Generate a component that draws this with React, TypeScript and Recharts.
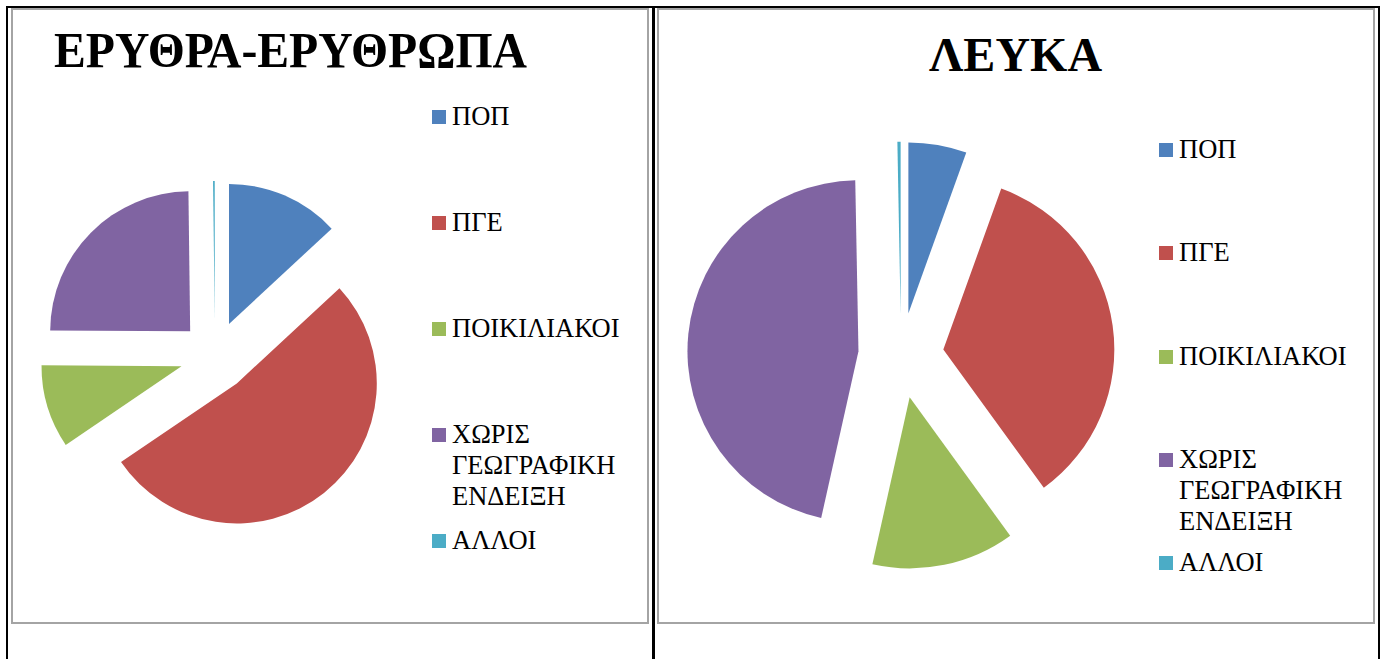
import { Cell, Legend, Pie, PieChart } from "recharts";

const categories = ["ΠΟΠ", "ΠΓΕ", "ΠΟΙΚΙΛΙΑΚΟΙ", "ΧΩΡΙΣ ΓΕΩΓΡΑΦΙΚΗ ΕΝΔΕΙΞΗ", "ΑΛΛΟΙ"];
const colors = ["#4F81BD", "#C0504D", "#9BBB59", "#8064A2", "#4BACC6"];

// percent shares
const redValues = [13.1, 52.4, 9.6, 24.7, 0.2];
const whiteValues = [5.5, 34.5, 13.5, 46.2, 0.3];

const SERIF = '"Liberation Serif", "Times New Roman", serif';

function explodedCenters(values: number[], cx: number, cy: number, dist: number) {
  const total = values.reduce((a, b) => a + b, 0);
  let acc = 0;
  return values.map((v) => {
    const mid = ((acc + v / 2) / total) * Math.PI * 2;
    acc += v;
    return { x: cx + dist * Math.sin(mid), y: cy - dist * Math.cos(mid) };
  });
}

function SideLegend({ pitch }: { pitch: number }) {
  return (
    <div style={{ position: "relative", fontFamily: SERIF, fontSize: 26.5, lineHeight: "31px", color: "#000" }}>
      {categories.map((name, i) => (
        <div key={name} style={{ position: "absolute", left: 0, top: i * pitch, display: "flex", alignItems: "flex-start" }}>
          <span style={{ width: 14, height: 14, marginTop: 9, marginRight: 6, background: colors[i], flex: "none" }} />
          <span style={{ width: 178, fontFamily: SERIF }}>{name}</span>
        </div>
      ))}
    </div>
  );
}

type PanelProps = {
  title: string;
  values: number[];
  left: number;
  width: number;
  cx: number;
  cy: number;
  radius: number;
  titleX: number;
  titleY: number;
  titleSize: number;
  titleAnchor: "start" | "middle";
  titleLength?: number;
  legendLeft: number;
  legendTop: number;
  legendPitch: number;
};

function PiePanel(p: PanelProps) {
  const data = categories.map((name, i) => ({ name, value: p.values[i] }));
  // each slice pulled out by 25% of the radius, like the original
  const centers = explodedCenters(p.values, p.cx, p.cy, p.radius * 0.25);
  const height = 616;
  return (
    <div style={{ position: "absolute", left: p.left, top: 8, width: p.width, height }}>
      <PieChart width={p.width} height={height} margin={{ top: 0, right: 0, bottom: 0, left: 0 }}>
        {centers.map((c, i) => (
          <Pie
            key={i}
            data={data}
            dataKey="value"
            nameKey="name"
            cx={c.x}
            cy={c.y}
            outerRadius={p.radius}
            startAngle={90}
            endAngle={-270}
            stroke="none"
            isAnimationActive={false}
          >
            {data.map((d, j) => (
              <Cell key={d.name} fill={j === i ? colors[j] : "transparent"} stroke="none" />
            ))}
          </Pie>
        ))}
        <Legend
          layout="vertical"
          align="right"
          verticalAlign="top"
          wrapperStyle={{ left: p.legendLeft, top: p.legendTop, right: "auto", width: 200 }}
          content={() => <SideLegend pitch={p.legendPitch} />}
        />
      </PieChart>
      <svg width={p.width} height={90} style={{ position: "absolute", left: 0, top: 0 }}>
        <text
          x={p.titleX}
          y={p.titleY}
          textAnchor={p.titleAnchor}
          fontFamily={SERIF}
          fontWeight="bold"
          fontSize={p.titleSize}
          fill="#000"
          textLength={p.titleLength}
          lengthAdjust={p.titleLength ? "spacingAndGlyphs" : undefined}
        >
          {p.title}
        </text>
      </svg>
      <div
        style={{
          position: "absolute",
          inset: 0,
          boxSizing: "border-box",
          border: "2px solid #a4a4a4",
          pointerEvents: "none",
        }}
      />
    </div>
  );
}

export default function App() {
  return (
    <div style={{ position: "absolute", left: 0, top: 0, width: 1387, height: 659, background: "#fff", overflow: "hidden" }}>
      {/* table rules */}
      <div style={{ position: "absolute", left: 6, top: 6, width: 1374, height: 2, background: "#000" }} />
      <div style={{ position: "absolute", left: 6, top: 6, width: 2, height: 653, background: "#000" }} />
      <div style={{ position: "absolute", left: 652, top: 6, width: 3, height: 653, background: "#000" }} />
      <div style={{ position: "absolute", left: 1378, top: 6, width: 2, height: 653, background: "#000" }} />

      <PiePanel
        title="ΕΡΥΘΡΑ-ΕΡΥΘΡΩΠΑ"
        values={redValues}
        left={11}
        width={638}
        cx={204}
        cy={348}
        radius={140}
        titleX={43}
        titleY={59}
        titleSize={51}
        titleAnchor="start"
        titleLength={473}
        legendLeft={421}
        legendTop={93}
        legendPitch={106}
      />
      <PiePanel
        title="ΛΕΥΚΑ"
        values={whiteValues}
        left={657}
        width={718}
        cx={244}
        cy={347.5}
        radius={171}
        titleX={358.5}
        titleY={63}
        titleSize={48}
        titleAnchor="middle"
        legendLeft={502}
        legendTop={126}
        legendPitch={103.3}
      />
    </div>
  );
}
